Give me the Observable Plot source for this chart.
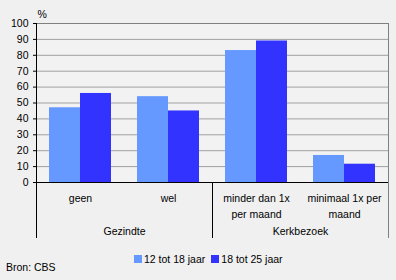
<!DOCTYPE html>
<html>
<head>
<meta charset="utf-8">
<script src="https://cdn.jsdelivr.net/npm/d3@7"></script>
<script src="https://cdn.jsdelivr.net/npm/@observablehq/plot@0.6"></script>
<style>
  html, body { margin: 0; padding: 0; background: #f0f0f0; }
  body { width: 396px; height: 280px; position: relative; overflow: hidden;
         font-family: "Liberation Sans", Arial, sans-serif; font-size: 10.5px; color: #000; }
  #chart { position: absolute; left: 0; top: 0; }
  .legend { position: absolute; top: 253px; left: 134px; display: flex; align-items: center; white-space: nowrap; }
  .legend .item { display: flex; align-items: center; margin-right: 6px; }
  .legend .sw { width: 8px; height: 8px; margin-right: 2px; }
  .source { position: absolute; left: 6px; top: 261px; }
</style>
</head>
<body>
<div id="chart"></div>
<div class="legend" id="legend"></div>
<div class="source">Bron: CBS</div>
<script>
const categories = ["geen", "wel", "minder dan 1x per maand", "minimaal 1x per maand"];
const categoryLabels = ["geen", "wel", "minder dan 1x\nper maand", "minimaal 1x per\nmaand"];
const groups = ["Gezindte", "Kerkbezoek"];
const groupFirstCategory = ["geen", "minder dan 1x per maand"];
const series = ["12 tot 18 jaar", "18 tot 25 jaar"];
const values12to18 = [47, 54, 83, 17];
const values18to25 = [56, 45, 89, 11.5];
const yTicks = [0, 10, 20, 30, 40, 50, 60, 70, 80, 90, 100];
const colors = ["#6699ff", "#3333ff"];

const data = [];
categories.forEach((c, i) => {
  data.push({category: c, series: series[0], value: values12to18[i]});
  data.push({category: c, series: series[1], value: values18to25[i]});
});
const labelRows = categories.map((c, i) => ({category: c, label: categoryLabels[i]}));
const groupRows = groups.map((g, i) => ({category: groupFirstCategory[i], label: g}));

const font = "Liberation Sans, Arial, sans-serif";

const plot = Plot.plot({
  width: 396,
  height: 280,
  marginLeft: 36,
  marginRight: 8,
  marginTop: 23,
  marginBottom: 98,
  style: {background: "transparent", fontFamily: font, fontSize: "10.5px", color: "#000"},
  fx: {domain: categories, padding: 0, axis: null},
  x: {domain: series, paddingInner: 0, paddingOuter: 0.4, axis: null},
  y: {domain: [0, 100], axis: null},
  color: {domain: series, range: colors},
  marks: [
    Plot.frame({fill: "#f2f2f2", stroke: "none"}),
    Plot.gridY(yTicks.filter(t => t > 0 && t < 100), {stroke: "#a0a0a0", strokeOpacity: 1, strokeWidth: 1}),
    Plot.barY(data, {fx: "category", x: "series", y: "value", fill: "series"}),
    Plot.ruleY([100], {stroke: "#808080", strokeWidth: 1}),
    Plot.ruleY([0], {stroke: "#000", strokeWidth: 1}),
    // right border (gray, extends below)
    Plot.ruleX([categories[3]], {fx: d => d, x: null, stroke: "#808080", dx: 44, insetBottom: -56}),
    // left axis line
    Plot.ruleX([categories[0]], {fx: d => d, x: null, stroke: "#000", dx: -44, insetBottom: -56}),
    // middle separator
    Plot.ruleX([categories[2]], {fx: d => d, x: null, stroke: "#000", dx: -44, insetTop: 159, insetBottom: -56}),
    Plot.axisY(yTicks, {anchor: "left", tickSize: 3, tickPadding: 5, fontSize: 10.5, label: null, stroke: "#000"}),
    Plot.text(labelRows, {fx: "category", text: "label", frameAnchor: "bottom", lineAnchor: "top", dy: 9, lineHeight: 1.45, fontSize: 10.5}),
    Plot.text(groupRows, {fx: "category", text: "label", frameAnchor: "bottom-right", textAnchor: "middle", lineAnchor: "top", dy: 45, fontSize: 10.5}),
    Plot.text(["%"], {fx: () => categories[0], frameAnchor: "top-left", textAnchor: "start", lineAnchor: "bottom", dx: 1, dy: -6, fontSize: 10.5})
  ]
});
document.getElementById("chart").appendChild(plot);

const legend = document.getElementById("legend");
series.forEach((s, i) => {
  const item = document.createElement("div");
  item.className = "item";
  const sw = document.createElement("div");
  sw.className = "sw";
  sw.style.background = colors[i];
  const t = document.createElement("span");
  t.textContent = s;
  item.appendChild(sw);
  item.appendChild(t);
  legend.appendChild(item);
});
</script>
</body>
</html>
